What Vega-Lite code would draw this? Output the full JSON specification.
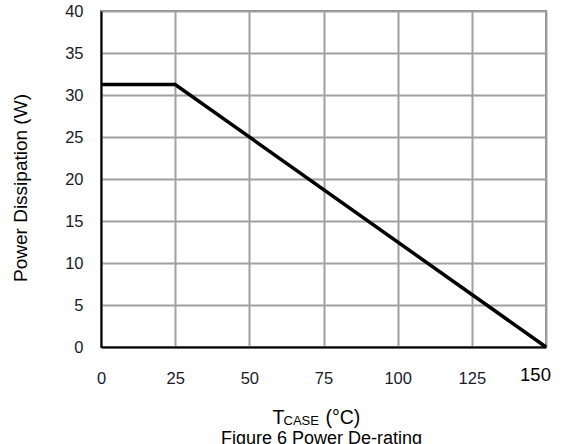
{
  "$schema": "https://vega.github.io/schema/vega-lite/v6.json",
  "width": 445,
  "height": 336,
  "autosize": "none",
  "padding": {"left": 101, "top": 11, "right": 19, "bottom": 97},
  "background": "white",
  "data": {"values": [
    {"t": 0, "p": 31.25},
    {"t": 25, "p": 31.25},
    {"t": 150, "p": 0}
  ]},
  "title": {
    "text": "Figure 6 Power De-rating",
    "orient": "bottom",
    "anchor": "middle",
    "font": "Liberation Sans",
    "fontSize": 18,
    "fontWeight": "normal",
    "color": "black",
    "dx": -2,
    "offset": 3
  },
  "config": {
    "view": {"stroke": "#8a8a8a", "strokeWidth": 2},
    "axis": {
      "gridColor": "#a0a0a0",
      "gridWidth": 2,
      "gridOpacity": 1,
      "domainColor": "black",
      "domainWidth": 2,
      "ticks": false,
      "labelColor": "#1a1a2a",
      "titleColor": "black",
      "titleFont": "Liberation Sans",
      "titleFontWeight": "normal",
      "labelFont": "Liberation Sans",
      "labelFontSize": 16.5
    }
  },
  "layer": [
    {
      "mark": {"type": "line", "color": "black", "strokeWidth": 3.5, "strokeCap": "butt", "strokeJoin": "miter"},
      "encoding": {
        "x": {
          "field": "t", "type": "quantitative",
          "scale": {"domain": [0, 150], "nice": false},
          "axis": {
            "values": [0, 25, 50, 75, 100, 125, 150],
            "labelFlush": false,
            "labelPadding": {"condition": {"test": "datum.value == 150", "value": 18}, "value": 23},
            "labelOffset": {"condition": {"test": "datum.value == 150", "value": -11}, "value": 0},
            "labelFontSize": {"condition": {"test": "datum.value == 150", "value": 18.5}, "value": 16.5},
            "labelColor": {"condition": {"test": "datum.value == 150", "value": "black"}, "value": "#1a1a2a"},
            "title": "T",
            "titleFontSize": 19.5,
            "titleAlign": "left",
            "titleAnchor": null,
            "titleBaseline": "alphabetic",
            "titleX": 171,
            "titleY": 76
          }
        },
        "y": {
          "field": "p", "type": "quantitative",
          "scale": {"domain": [0, 40], "nice": false},
          "axis": {
            "values": [0, 5, 10, 15, 20, 25, 30, 35, 40],
            "labelPadding": 18,
            "title": "Power Dissipation (W)",
            "titleFontSize": 19,
            "titleAngle": -90,
            "titleAlign": "center",
            "titleBaseline": "alphabetic",
            "titleX": -75,
            "titleY": 176.5
          }
        }
      }
    },
    {
      "mark": {"type": "line", "opacity": 0},
      "encoding": {
        "x": {
          "field": "t", "type": "quantitative",
          "axis": {
            "grid": false, "labels": false, "domain": false, "ticks": false,
            "orient": "bottom",
            "title": "CASE",
            "titleFontSize": 13,
            "titleAlign": "left",
            "titleBaseline": "alphabetic",
            "titleX": 182,
            "titleY": 77
          }
        },
        "y": {"field": "p", "type": "quantitative"}
      }
    },
    {
      "mark": {"type": "line", "opacity": 0},
      "encoding": {
        "x": {
          "field": "t", "type": "quantitative",
          "axis": {
            "grid": false, "labels": false, "domain": false, "ticks": false,
            "orient": "bottom",
            "title": "(°C)",
            "titleFontSize": 19.5,
            "titleAlign": "left",
            "titleBaseline": "alphabetic",
            "titleX": 224,
            "titleY": 76
          }
        },
        "y": {"field": "p", "type": "quantitative"}
      }
    }
  ],
  "resolve": {"axis": {"x": "independent"}}
}
